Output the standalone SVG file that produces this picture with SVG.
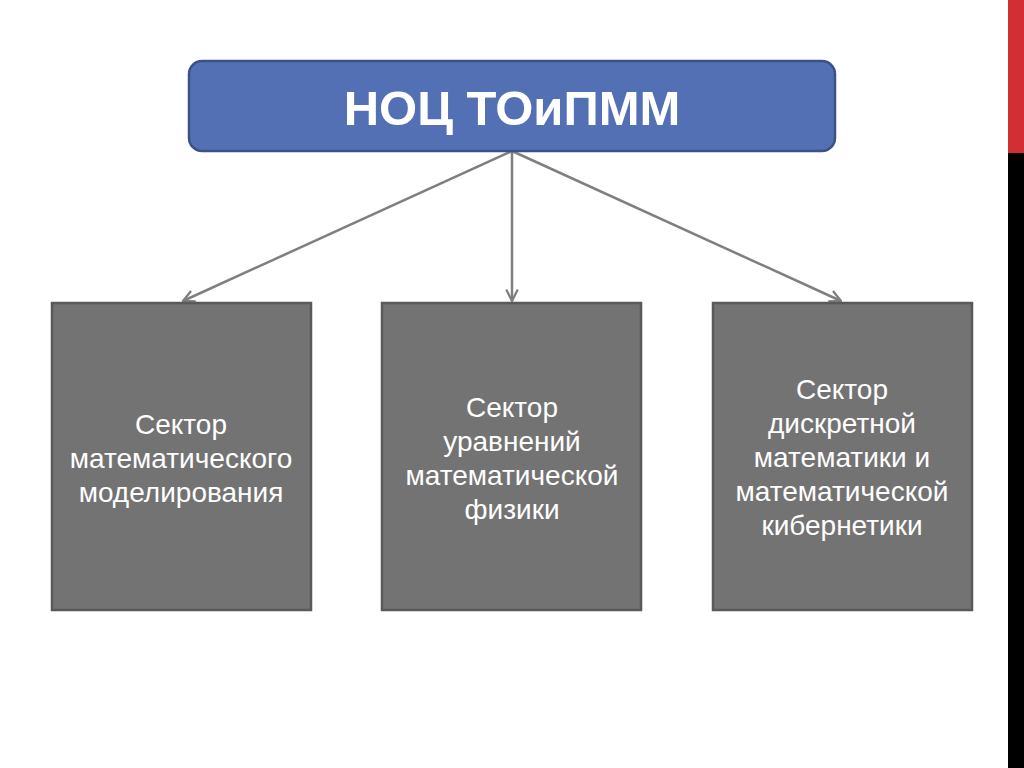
<svg xmlns="http://www.w3.org/2000/svg" width="1024" height="768" viewBox="0 0 1024 768">
<defs>
<style>
.sector rect{fill:#737373;stroke:#595959;stroke-width:2.5}
.sector text{fill:#ffffff;font-family:"Liberation Sans",Arial,sans-serif;font-size:28px;text-anchor:middle}
.conn{stroke:#7f7f7f;stroke-width:2.5;fill:none;marker-end:url(#arr)}
</style>
<marker id="arr" viewBox="0 0 12 12" refX="11" refY="6" markerWidth="5.5" markerHeight="5.5" orient="auto" markerUnits="strokeWidth">
<path d="M1,1 L11,6 L1,11" fill="none" stroke="#7f7f7f" stroke-width="2"/>
</marker>
</defs>
<rect x="0" y="0" width="1024" height="768" fill="#ffffff"/>
<rect x="1008" y="0" width="16" height="153" fill="#d22f34"/>
<rect x="1008" y="153" width="16" height="615" fill="#000000"/>
<g id="connectors">
<line class="conn" x1="512" y1="151" x2="183" y2="301"/>
<line class="conn" x1="512" y1="151" x2="512" y2="301"/>
<line class="conn" x1="512" y1="151" x2="841" y2="301"/>
</g>
<g id="root">
<rect x="189" y="61" width="646" height="90" rx="13" fill="#5270b3" stroke="#3c5189" stroke-width="2.5"/>
<text x="512" y="125" fill="#ffffff" font-family="'Liberation Sans',Arial,sans-serif" font-size="49" font-weight="bold" text-anchor="middle">НОЦ ТОиПММ</text>
</g>
<g id="sector1" class="sector">
<rect x="52" y="303" width="259" height="307"/>
<text x="181" y="434">Сектор</text>
<text x="181" y="468">математического</text>
<text x="181" y="502">моделирования</text>
</g>
<g id="sector2" class="sector">
<rect x="382" y="303" width="259" height="307"/>
<text x="512" y="417">Сектор</text>
<text x="512" y="451">уравнений</text>
<text x="512" y="485">математической</text>
<text x="512" y="519">физики</text>
</g>
<g id="sector3" class="sector">
<rect x="713" y="303" width="259" height="307"/>
<text x="842" y="399">Сектор</text>
<text x="842" y="433">дискретной</text>
<text x="842" y="467">математики и</text>
<text x="842" y="501">математической</text>
<text x="842" y="535">кибернетики</text>
</g>
</svg>
